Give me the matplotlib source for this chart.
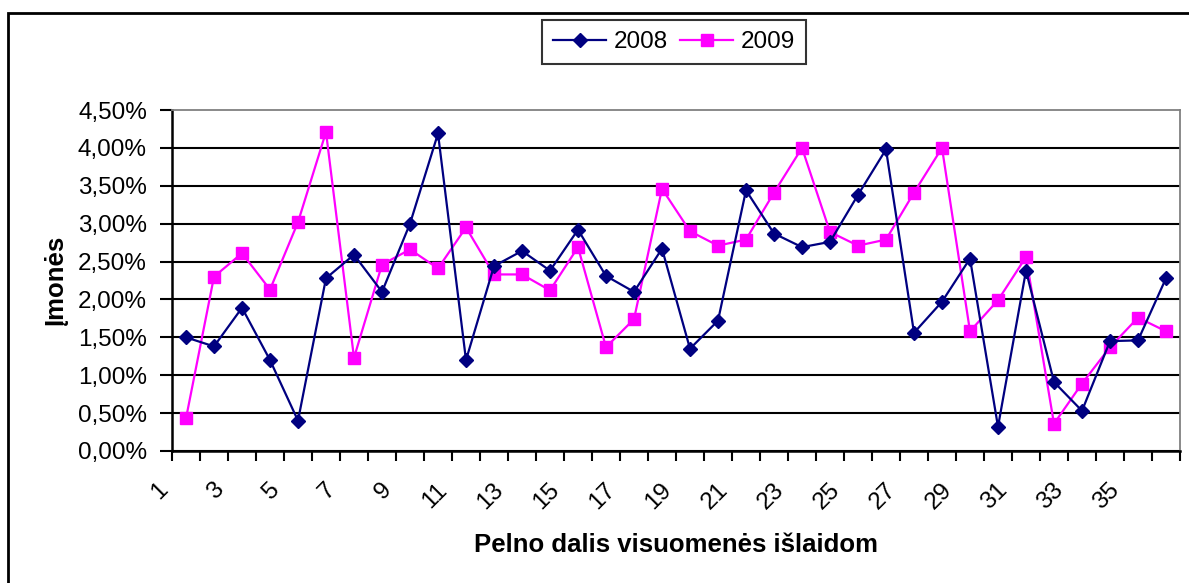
import matplotlib.pyplot as plt
from matplotlib.patches import Rectangle
from matplotlib.transforms import ScaledTranslation

plt.rcParams['font.family'] = ['Liberation Sans', 'DejaVu Sans']

# categories 1..36
categories = list(range(1, 37))

# values in percent
y2008 = [1.50, 1.38, 1.89, 1.20, 0.40, 2.28, 2.59, 2.10, 3.00, 4.19,
         1.20, 2.44, 2.64, 2.38, 2.92, 2.31, 2.10, 2.67, 1.35, 1.72,
         3.44, 2.87, 2.69, 2.76, 3.38, 3.98, 1.56, 1.97, 2.54, 0.32,
         2.38, 0.91, 0.53, 1.45, 1.46, 2.28]
y2009 = [0.43, 2.30, 2.61, 2.13, 3.02, 4.21, 1.23, 2.46, 2.66, 2.41,
         2.95, 2.33, 2.33, 2.12, 2.69, 1.37, 1.74, 3.46, 2.90, 2.71,
         2.79, 3.41, 4.00, 2.89, 2.71, 2.79, 3.41, 4.00, 1.58, 1.99,
         2.56, 0.36, 0.89, 1.37, 1.76, 1.58]

yticks = [0.0, 0.5, 1.0, 1.5, 2.0, 2.5, 3.0, 3.5, 4.0, 4.5]
xtick_labels = [str(c) for c in categories[::2]]

W, H = 1189, 583
fig = plt.figure(figsize=(W / 100, H / 100), dpi=100)
ax = fig.add_axes([172 / W, 1 - 451 / H, 1008 / W, 341 / H])

# outer chart border (cut by the picture edges on right/bottom)
fig.add_artist(Rectangle((8 / W, -0.05), 1.2, 1.05 - 13 / H,
                         transform=fig.transFigure, fill=False,
                         edgecolor='black', linewidth=2, clip_on=False))

ax.plot(categories, y2008, color='#000080', marker='D', markersize=6.8,
        linewidth=1.6, label='2008', zorder=3)
ax.plot(categories, y2009, color='#FF00FF', marker='s', markersize=8.2,
        linewidth=1.6, label='2009', zorder=2)

ax.set_xlim(0.5, 36.5)
ax.set_ylim(0, 4.5)

# y axis
ax.set_yticks(yticks)
ax.set_yticklabels([('%.2f%%' % v).replace('.', ',') for v in yticks])
ax.tick_params(axis='y', direction='out', length=9, width=1.5,
               pad=9, labelsize=17.5, color='black')
ax.yaxis.grid(True, color='black', linewidth=1.5)
ax.get_ygridlines()[-1].set_visible(False)
ax.set_axisbelow(True)

# x axis: tick marks between categories, labels rotated
ax.set_xticks([c + 0.5 for c in range(0, 37)])
ax.set_xticklabels([])
ax.tick_params(axis='x', which='major', direction='out', length=7,
               width=1.5, color='black')
ax.set_xticks(categories[::2], minor=True)
ax.set_xticklabels(xtick_labels, minor=True, rotation=45,
                   ha='right', va='top', fontsize=17.5)
ax.tick_params(axis='x', which='minor', length=0, pad=20)
shift = ScaledTranslation(-14 / 100, 0, fig.dpi_scale_trans)
for lab in ax.get_xticklabels(minor=True):
    lab.set_transform(lab.get_transform() + shift)

for s in ['left', 'bottom']:
    ax.spines[s].set_color('black')
    ax.spines[s].set_linewidth(1.8)
for s in ['top', 'right']:
    ax.spines[s].set_color('#808080')
    ax.spines[s].set_linewidth(1.3)

fig.text(56 / W, 1 - 280 / H, 'Įmonės', rotation=90, ha='center',
         va='center', fontsize=18.5, fontweight='bold')
fig.text(676 / W, 1 - 545 / H, 'Pelno dalis visuomenės išlaidom',
         ha='center', va='center', fontsize=18.5, fontweight='bold')

leg = ax.legend(loc='center', bbox_to_anchor=(674 / W, 1 - 42 / H),
                bbox_transform=fig.transFigure, ncol=2, fontsize=17.5,
                frameon=True, fancybox=False, handlelength=2.2,
                handletextpad=0.3, columnspacing=0.5, borderpad=0.45,
                borderaxespad=0)
leg.get_frame().set_edgecolor('black')
leg.get_frame().set_linewidth(1.5)

fig.savefig('out.png', dpi=100)
